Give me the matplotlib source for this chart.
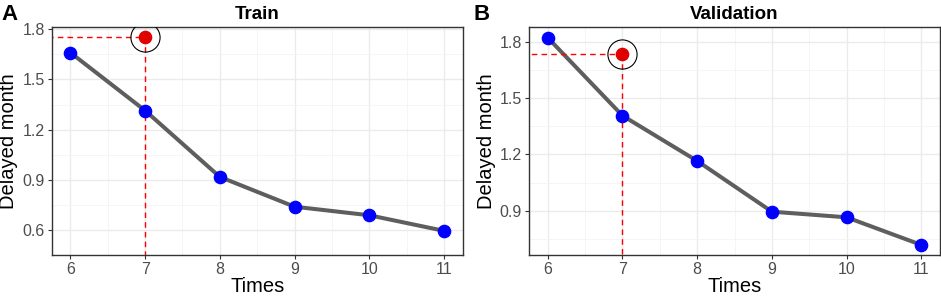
import numpy as np
import matplotlib.pyplot as plt

plt.rcParams['font.family'] = ['Liberation Sans', 'DejaVu Sans']

# data
times = [6, 7, 8, 9, 10, 11]
train_vals = [1.660, 1.314, 0.918, 0.740, 0.689, 0.596]
valid_vals = [1.821, 1.406, 1.165, 0.895, 0.865, 0.718]
train_best = (7, 1.753)
valid_best = (7, 1.735)
titles = ["Train", "Validation"]
letters = ["A", "B"]
yticks_a = [0.6, 0.9, 1.2, 1.5, 1.8]
yticks_b = [0.9, 1.2, 1.5, 1.8]

fig = plt.figure(figsize=(9.41, 2.96), dpi=100)
ax_a = fig.add_axes([0.0549, 0.1375, 0.4368, 0.7703])
ax_b = fig.add_axes([0.5622, 0.1375, 0.4368, 0.7703])

panels = [
    (ax_a, train_vals, train_best, yticks_a),
    (ax_b, valid_vals, valid_best, yticks_b),
]

for i, (ax, vals, best, yt) in enumerate(panels):
    allv = vals + [best[1]]
    lo, hi = min(allv), max(allv)
    pad = 0.05 * (hi - lo)
    ax.set_xlim(5.75, 11.25)
    ax.set_ylim(lo - pad, hi + pad)

    # grid (theme_bw style)
    ax.set_xticks(times)
    ax.set_yticks(yt)
    ax.set_xticks(np.array(times[:-1]) + 0.5, minor=True)
    ax.set_yticks(np.array(yt) - 0.15, minor=True)
    ax.grid(True, which='major', color='#EBEBEB', lw=1.0, zorder=0)
    ax.grid(True, which='minor', color='#F4F4F4', lw=0.6, zorder=0)
    ax.tick_params(which='minor', length=0)
    ax.tick_params(which='major', length=3, color='#333333', width=0.8,
                   labelsize=11.5, labelcolor='#4D4D4D', pad=2)
    for s in ax.spines.values():
        s.set_color('#333333')
        s.set_linewidth(1.0)

    ax.plot(times, vals, color='#5E5E5E', lw=2.9, zorder=2, solid_capstyle='round')
    ax.plot(times, vals, 'o', color='#0000FF', ms=8.8, mec='#0000FF', zorder=3)

    # best point with dashed guides
    bx, by = best
    ax.plot([5.0, bx], [by, by], ls=(0, (4, 3)), color='#FF0000', lw=1.0, zorder=2)
    ax.plot([bx, bx], [by, lo - 4 * pad], ls=(0, (4, 3)), color='#FF0000', lw=1.0, zorder=2)
    ax.plot(bx, by, 'o', color='#E00000', ms=8.8, zorder=4)
    ax.plot(bx, by, 'o', mfc='none', mec='black', ms=21, mew=0.8, zorder=4)

    ax.set_xlabel("Times", fontsize=14.5, labelpad=0)
    ax.set_ylabel("Delayed month", fontsize=14.5, labelpad=3)
    ax.set_title(titles[i], fontsize=13.5, fontweight='bold', pad=6)

fig.text(0.002, 0.985, "A", fontsize=16, fontweight='bold', va='top', ha='left')
fig.text(0.503, 0.985, "B", fontsize=16, fontweight='bold', va='top', ha='left')

fig.savefig("out.png", dpi=100)
